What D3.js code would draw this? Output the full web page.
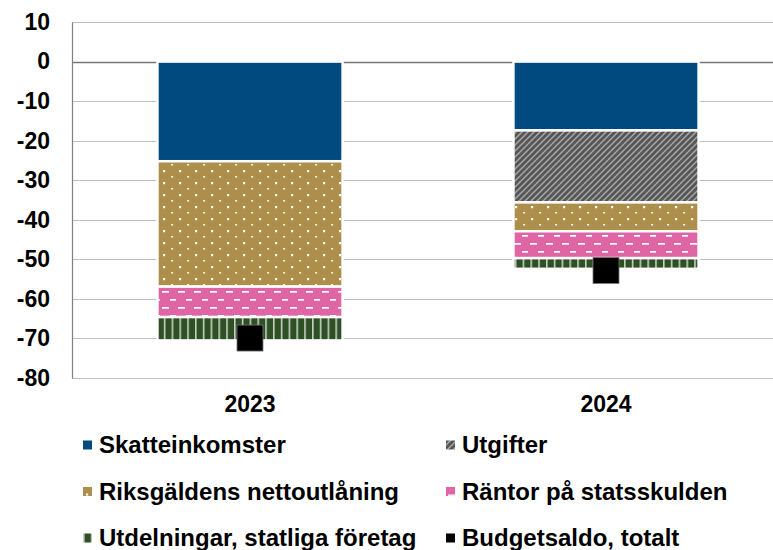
<!DOCTYPE html>
<html>
<head>
<meta charset="utf-8">
<script src="https://cdn.jsdelivr.net/npm/d3@7"></script>
<style>
  body { margin: 0; background: #fff; }
  svg text { font-family: "Liberation Sans", Arial, sans-serif; font-weight: bold; fill: #000; }
</style>
</head>
<body>
<div id="chart"></div>
<script>
// data (miljarder kr, bidrag till budgetsaldot)
var years = ["2023", "2024"];
var skatteinkomster = [-25.2, -17.4];
var utgifter = [0, -18.2];
var riksgalden = [-31.7, -7.3];
var rantor = [-7.7, -6.8];
var utdelningar = [-5.9, -2.7];
var budgetsaldo = [-69.9, -52.8];
var yTicks = [10, 0, -10, -20, -30, -40, -50, -60, -70, -80];

var seriesNames = ["Skatteinkomster", "Utgifter", "Riksgäldens nettoutlåning",
    "Räntor på statsskulden", "Utdelningar, statliga företag"];
var seriesValues = [skatteinkomster, utgifter, riksgalden, rantor, utdelningar];

var width = 773, height = 550;

var svg = d3.select("#chart").append("svg")
    .attr("width", width)
    .attr("height", height);

var defs = svg.append("defs");

// patterns
var p;
p = defs.append("pattern").attr("id", "pat0").attr("patternUnits", "userSpaceOnUse")
    .attr("width", 8).attr("height", 8);
p.append("rect").attr("width", 8).attr("height", 8).attr("fill", "#004a80");

p = defs.append("pattern").attr("id", "pat1").attr("patternUnits", "userSpaceOnUse")
    .attr("width", 6).attr("height", 6);
p.append("rect").attr("width", 6).attr("height", 6).attr("fill", "#555");
p.append("path").attr("d", "M-1,7 L7,-1 M-1,1 L1,-1 M5,7 L7,5")
    .attr("stroke", "#a8a8a8").attr("stroke-width", 1.5);

p = defs.append("pattern").attr("id", "pat2").attr("patternUnits", "userSpaceOnUse")
    .attr("width", 16).attr("height", 12);
p.append("rect").attr("width", 16).attr("height", 12).attr("fill", "#ad8f4b");
p.append("rect").attr("x", 3).attr("y", 2).attr("width", 2.2).attr("height", 2.2).attr("fill", "#fff");
p.append("rect").attr("x", 11).attr("y", 8).attr("width", 2.2).attr("height", 1.6).attr("fill", "#f6f0e2");

p = defs.append("pattern").attr("id", "pat3").attr("patternUnits", "userSpaceOnUse")
    .attr("width", 16).attr("height", 16);
p.append("rect").attr("width", 16).attr("height", 16).attr("fill", "#e065a5");
p.append("rect").attr("x", 2).attr("y", 3).attr("width", 7).attr("height", 1.7).attr("fill", "#fff");
p.append("rect").attr("x", 10).attr("y", 11).attr("width", 7).attr("height", 1.7).attr("fill", "#fff");

p = defs.append("pattern").attr("id", "pat4").attr("patternUnits", "userSpaceOnUse")
    .attr("width", 7.8).attr("height", 8);
p.append("rect").attr("width", 7.8).attr("height", 8).attr("fill", "#2f4f25");
p.append("rect").attr("x", 0).attr("y", 0).attr("width", 1.6).attr("height", 8).attr("fill", "#c8d0c4");

var table = years.map(function (yr, i) {
    var row = { year: yr };
    seriesNames.forEach(function (name, j) { row[name] = seriesValues[j][i]; });
    return row;
});

var stacked = d3.stack()
    .keys(seriesNames)
    .offset(d3.stackOffsetDiverging)(table);

var x = d3.scaleBand()
    .domain(years)
    .range([72, 784])
    .paddingInner(0.48)
    .paddingOuter(0.24);

var y = d3.scaleLinear()
    .domain([-80, 10])
    .range([378, 22]);

// gridlines
svg.append("g")
    .selectAll("line")
    .data(yTicks)
    .enter()
    .append("line")
    .attr("x1", 72)
    .attr("x2", width)
    .attr("y1", function (d) { return Math.round(y(d)) + 0.5; })
    .attr("y2", function (d) { return Math.round(y(d)) + 0.5; })
    .attr("stroke", function (d) { return d === 0 ? "#777" : "#bdbdbd"; })
    .attr("stroke-width", function (d) { return d === 0 ? 1.6 : 1; });

// y axis (plain hyphen minus like the original)
var yAxis = svg.append("g")
    .attr("transform", "translate(72,0)")
    .call(d3.axisLeft(y).tickValues(yTicks).tickSize(0).tickPadding(22)
        .tickFormat(function (d) { return String(d); }));
yAxis.select(".domain").attr("stroke", "#808080").attr("stroke-width", 1.2);
yAxis.selectAll("text")
    .style("font-size", "23px")
    .style("font-family", "'Liberation Sans', Arial, sans-serif")
    .style("font-weight", "bold");

// bars
svg.append("g")
    .selectAll("g")
    .data(stacked)
    .enter()
    .append("g")
    .attr("fill", function (d, i) { return "url(#pat" + i + ")"; })
    .selectAll("rect")
    .data(function (d) { return d.filter(function (s) { return s[1] - s[0] !== 0; }); })
    .enter()
    .append("rect")
    .attr("x", function (d) { return x(d.data.year); })
    .attr("width", x.bandwidth())
    .attr("y", function (d) { return y(d[1]); })
    .attr("height", function (d) { return y(d[0]) - y(d[1]); })
    .attr("stroke", "#fff")
    .attr("stroke-width", 2.5);

// budgetsaldo markers
svg.append("g")
    .selectAll("rect")
    .data(budgetsaldo)
    .enter()
    .append("rect")
    .attr("x", function (d, i) { return x(years[i]) + x.bandwidth() / 2 - 13; })
    .attr("y", function (d) { return y(d) - 13; })
    .attr("width", 26)
    .attr("height", 26)
    .attr("fill", "#000")
    .attr("stroke", "#777")
    .attr("stroke-width", 0.8);

// category labels
svg.append("g")
    .selectAll("text")
    .data(years)
    .enter()
    .append("text")
    .attr("x", function (d) { return x(d) + x.bandwidth() / 2; })
    .attr("y", 412)
    .attr("text-anchor", "middle")
    .style("font-size", "23px")
    .text(function (d) { return d; });

// legend
var legendItems = seriesNames.concat(["Budgetsaldo, totalt"]);
var legend = svg.append("g")
    .selectAll("g")
    .data(legendItems)
    .enter()
    .append("g")
    .attr("transform", function (d, i) {
        var col = i % 2, row = Math.floor(i / 2);
        return "translate(" + (col === 0 ? 83 : 446) + "," + (445 + row * 46.5) + ")";
    });

legend.append("rect")
    .attr("x", 0)
    .attr("y", -4.5)
    .attr("width", 9)
    .attr("height", 9)
    .attr("fill", function (d, i) { return i < 5 ? "url(#pat" + i + ")" : "#000"; });

legend.append("text")
    .attr("x", 16)
    .attr("y", 8)
    .style("font-size", "24px")
    .text(function (d) { return d; });
</script>
</body>
</html>
